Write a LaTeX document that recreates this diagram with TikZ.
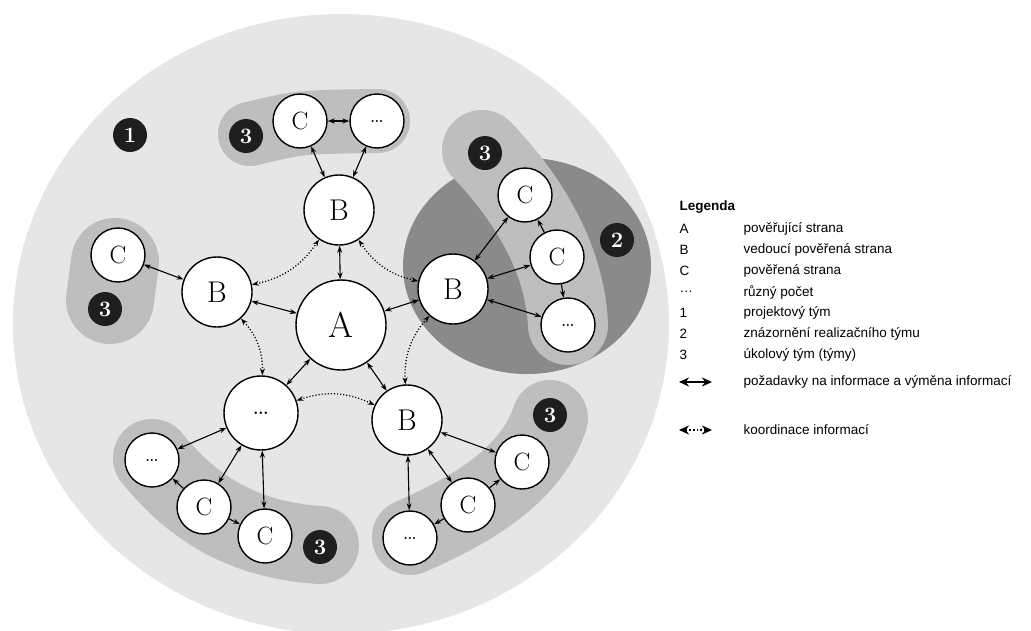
\documentclass[tikz,border=0pt]{standalone}
\usepackage{fontspec}
\newfontfamily\legendfont{Liberation Sans}
\usetikzlibrary{arrows.meta}
\definecolor{teamPale}{HTML}{E6E6E7}
\definecolor{teamMid}{HTML}{BEBEBE}
\definecolor{teamDark}{HTML}{8A8A8A}
\definecolor{badgeBlack}{HTML}{1E1E1E}

\begin{document}
\begin{tikzpicture}[x=1pt, y=-1pt,
  party/.style={circle, draw, line width=1.4pt, fill=white, inner sep=0pt},
  partyA/.style={party, minimum size=90pt, font=\fontsize{36}{36}\selectfont},
  partyB/.style={party, minimum size=70pt, font=\fontsize{30}{30}\selectfont},
  partyC/.style={party, minimum size=54pt, font=\fontsize{25}{25}\selectfont},
  badge/.style={circle, fill=badgeBlack, text=white, minimum size=34pt,
    inner sep=0pt, font=\bfseries\fontsize{22}{22}\selectfont},
  blob/.style={line cap=round, line join=round, draw=teamMid},
  req/.style={{Stealth[length=7pt,width=5pt]}-{Stealth[length=7pt,width=5pt]},
    line width=1.1pt},
  one/.style={-{Stealth[length=7pt,width=5pt]}, line width=1.1pt},
  coord/.style={req, dotted, line width=1.3pt},
  legarrow/.style={{Stealth[length=10pt,width=9pt]}-{Stealth[length=10pt,width=9pt]},
    line width=1.8pt},
  legtext/.style={anchor=west, font=\legendfont\fontsize{13.5}{13.5}\selectfont}]
  \useasboundingbox (0,0) rectangle (1031,630);

  % project team and task teams
  \fill[teamPale] (341,324) ellipse [x radius=328, y radius=310];
  \draw[blob, line width=64pt] (250,134) .. controls (300,122) .. (378,121);
  \draw[blob, line width=88pt] (115,262) -- (110,300);
  \draw[blob, line width=78pt] (152,458) .. controls (190,505) and (240,540) .. (320,545);
  \draw[blob, line width=76pt] (410,537) .. controls (460,515) and (530,480) .. (550,418);
  \fill[teamDark] (527,266) ellipse [x radius=124, y radius=108];
  \draw[blob, line width=80pt] (482,150) .. controls (530,200) and (565,260) .. (568,325);

  % parties
  \node[partyA] (A) at (341,325) {A};
  \node[partyB] (Btop) at (339,210) {B};
  \node[partyB] (Bleft) at (217,292) {B};
  \node[partyB] (Bright) at (453,289) {B};
  \node[partyB] (Bbr) at (407,420) {B};
  \node[partyB, minimum size=74pt] (Dmid) at (261,413) {\dots};
  \node[partyC] (Ctop) at (300,121) {C};
  \node[partyC] (Dtop) at (377,121) {\dots};
  \node[partyC] (Cleft) at (118,255) {C};
  \node[partyC] (Cr1) at (525,195) {C};
  \node[partyC] (Cr2) at (557,257) {C};
  \node[partyC] (Dr) at (568,325) {\dots};
  \node[partyC] (Dbl) at (152,460) {\dots};
  \node[partyC] (Cbl1) at (204,507) {C};
  \node[partyC] (Cbl2) at (265,536) {C};
  \node[partyC] (Cbr1) at (522,462) {C};
  \node[partyC] (Cbr2) at (468,505) {C};
  \node[partyC] (Dbr) at (410,538) {\dots};

  % information requests and exchange
  \draw[req] (A) -- (Btop);
  \draw[req] (A) -- (Bleft);
  \draw[req] (A) -- (Bright);
  \draw[req] (A) -- (Bbr);
  \draw[req] (A) -- (Dmid);
  \draw[req] (Btop) -- (Ctop);
  \draw[req] (Btop) -- (Dtop);
  \draw[req] (Ctop) -- (Dtop);
  \draw[req] (Bleft) -- (Cleft);
  \draw[req] (Bright) -- (Cr1);
  \draw[req] (Bright) -- (Cr2);
  \draw[req] (Bright) -- (Dr);
  \draw[one] (Cr2) -- (Cr1);
  \draw[one] (Cr2) -- (Dr);
  \draw[req] (Dmid) -- (Dbl);
  \draw[req] (Dmid) -- (Cbl1);
  \draw[req] (Dmid) -- (Cbl2);
  \draw[one] (Cbl1) -- (Dbl);
  \draw[one] (Cbl1) -- (Cbl2);
  \draw[req] (Bbr) -- (Cbr1);
  \draw[req] (Bbr) -- (Cbr2);
  \draw[req] (Bbr) -- (Dbr);
  \draw[one] (Cbr2) -- (Cbr1);
  \draw[one] (Cbr2) -- (Dbr);

  % coordination
  \draw[coord] (Btop) to[bend right=22] (Bright);
  \draw[coord] (Bright) to[bend right=22] (Bbr);
  \draw[coord] (Bbr) to[bend right=22] (Dmid);
  \draw[coord] (Dmid) to[bend right=22] (Bleft);
  \draw[coord] (Bleft) to[bend right=22] (Btop);

  % team numbers
  \node[badge] (n1) at (130,135) {1};
  \node[badge] (n2) at (617,240) {2};
  \node[badge] (n3top) at (246,136) {3};
  \node[badge] (n3left) at (105,309) {3};
  \node[badge] (n3right) at (485,153) {3};
  \node[badge] (n3bl) at (320,547) {3};
  \node[badge] (n3br) at (550,415) {3};

  % legend
  \node[legtext, font=\legendfont\bfseries\fontsize{13.5}{13.5}\selectfont] (leg) at (676,207) {Legenda};
  \foreach \key/\txt [count=\i] in {A/pověřující strana, B/vedoucí pověřená strana,
      C/pověřená strana, \dots/různý počet, 1/projektový tým,
      2/znázornění realizačního týmu, 3/úkolový tým (týmy)} {
    \node[legtext] (key\i) at (676,208+21*\i) {\key};
    \node[legtext] (txt\i) at (740,208+21*\i) {\txt};
  }
  \coordinate (reqL) at (679,382);
  \coordinate (reqR) at (712,382);
  \draw[legarrow] (reqL) -- (reqR);
  \node[legtext] (txtReq) at (740,382) {požadavky na informace a výměna informací};
  \coordinate (coordL) at (679,430);
  \coordinate (coordR) at (712,430);
  \draw[legarrow, dotted] (coordL) -- (coordR);
  \node[legtext] (txtCoord) at (740,430) {koordinace informací};
\end{tikzpicture}
\end{document}
